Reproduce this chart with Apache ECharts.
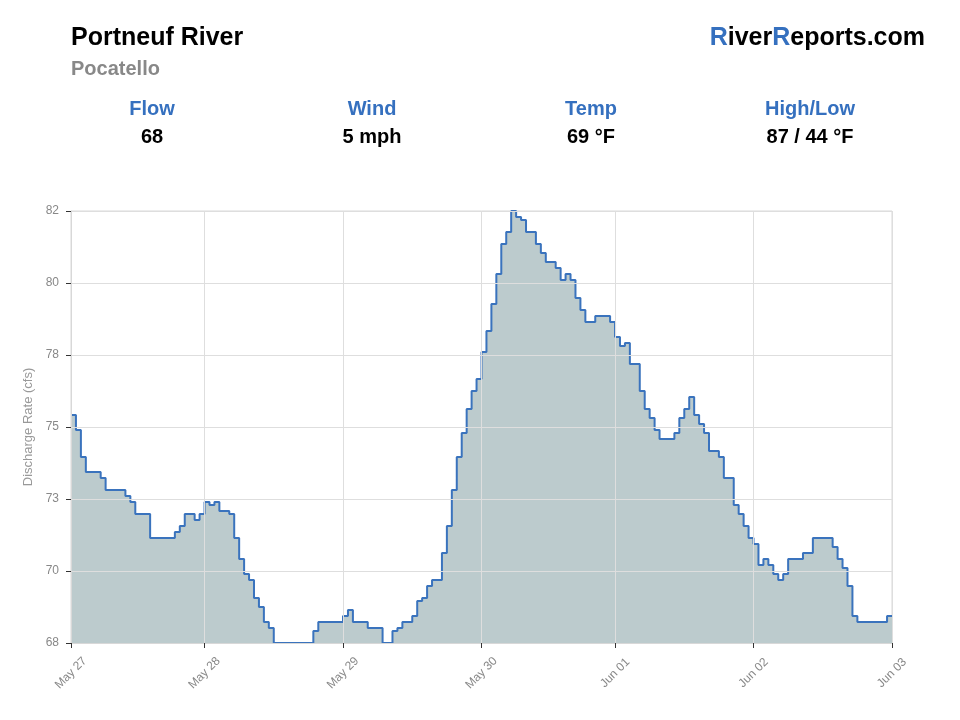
<!DOCTYPE html>
<html lang="en">
<head>
    <meta charset="UTF-8">
    <title>Portneuf River - Pocatello</title>
    <script src="https://cdn.jsdelivr.net/npm/echarts@6/dist/echarts.min.js"></script>
    <style>
        html, body { margin: 0; padding: 0; background: #fff; }
    </style>
</head>
<body>
<div id="myChart" style="width: 960px;height: 720px"></div>
<script>
    // hourly discharge readings (cfs)
    var flow = [
        75.6, 75.1, 74.2, 73.7, 73.7, 73.7, 73.5, 73.1, 73.1, 73.1,
        73.1, 72.9, 72.7, 72.3, 72.3, 72.3, 71.5, 71.5, 71.5, 71.5,
        71.5, 71.7, 71.9, 72.3, 72.3, 72.1, 72.3, 72.7, 72.6, 72.7,
        72.4, 72.4, 72.3, 71.5, 70.8, 70.3, 70.1, 69.5, 69.2, 68.7,
        68.5, 68.0, 68.0, 68.0, 68.0, 68.0, 68.0, 68.0, 68.0, 68.4,
        68.7, 68.7, 68.7, 68.7, 68.7, 68.9, 69.1, 68.7, 68.7, 68.7,
        68.5, 68.5, 68.5, 68.0, 68.0, 68.4, 68.5, 68.7, 68.7, 68.9,
        69.4, 69.5, 69.9, 70.1, 70.1, 71.0, 71.9, 73.1, 74.2, 75.0,
        75.8, 76.4, 76.8, 77.7, 78.4, 79.3, 80.3, 81.3, 81.7, 82.4,
        82.2, 82.1, 81.7, 81.7, 81.3, 81.0, 80.7, 80.7, 80.5, 80.1,
        80.3, 80.1, 79.5, 79.1, 78.7, 78.7, 78.9, 78.9, 78.9, 78.7,
        78.2, 77.9, 78.0, 77.3, 77.3, 76.4, 75.8, 75.5, 75.1, 74.8,
        74.8, 74.8, 75.0, 75.5, 75.8, 76.2, 75.6, 75.3, 75.0, 74.4,
        74.4, 74.2, 73.5, 73.5, 72.6, 72.3, 71.9, 71.5, 71.3, 70.6,
        70.8, 70.6, 70.3, 70.1, 70.3, 70.8, 70.8, 70.8, 71.0, 71.0,
        71.5, 71.5, 71.5, 71.5, 71.2, 70.8, 70.5, 69.9, 68.9, 68.7,
        68.7, 68.7, 68.7, 68.7, 68.7, 68.9, 68.9
    ];
    // date labels and the reading index they sit on
    var tickIndex = [0, 27, 55, 83, 110, 138, 166];
    var tickLabels = ['May 27', 'May 28', 'May 29', 'May 30', 'Jun 01', 'Jun 02', 'Jun 03'];

    var statNames = ['Flow', 'Wind', 'Temp', 'High/Low'];
    var statValues = ['68', '5 mph', '69 °F', '87 / 44 °F'];

    var hours = flow.map(function (v, i) { return String(i); });
    var isTick = function (index) { return tickIndex.indexOf(index) >= 0; };

    var blue = '#3570bf';
    var font = '"Liberation Sans", Arial, Helvetica, sans-serif';

    var graphics = [
        {type: 'text', left: 71, top: 26, style: {text: 'Portneuf River', fill: '#000', font: 'bold 25px ' + font}},
        {type: 'text', left: 71, top: 59, style: {text: 'Pocatello', fill: '#888', font: 'bold 20px ' + font}},
        {type: 'text', right: 35, top: 26, style: {
            text: '{b|R}iver{b|R}eports.com', fill: '#000', font: 'bold 25px ' + font,
            rich: {b: {fill: blue, font: 'bold 25px ' + font}}
        }}
    ];
    var statX = [152, 372, 591, 810];
    statNames.forEach(function (name, i) {
        graphics.push({type: 'text', x: statX[i], y: 109, style: {
            text: name, fill: blue, font: 'bold 20px ' + font, align: 'center', verticalAlign: 'middle'
        }});
        graphics.push({type: 'text', x: statX[i], y: 137, style: {
            text: statValues[i], fill: '#000', font: 'bold 20px ' + font, align: 'center', verticalAlign: 'middle'
        }});
    });

    var myChart = echarts.init(document.getElementById('myChart'));
    myChart.setOption({
        animation: false,
        textStyle: {fontFamily: font},
        graphic: graphics,
        grid: {
            left: 71, right: 68, top: 211, bottom: 77,
            show: true, borderColor: '#d8d8d8', borderWidth: 1
        },
        xAxis: {
            type: 'category',
            data: hours,
            boundaryGap: false,
            z: 3,
            axisLine: {lineStyle: {color: '#d8d8d8'}},
            axisTick: {show: true, interval: isTick, length: 5, lineStyle: {color: '#333'}},
            splitLine: {show: true, interval: isTick, lineStyle: {color: '#dedede'}},
            axisLabel: {
                interval: isTick,
                rotate: 45,
                align: 'center',
                verticalAlign: 'middle',
                margin: 30,
                color: '#888',
                fontSize: 12,
                formatter: function (v) {
                    var k = tickIndex.indexOf(Number(v));
                    return k >= 0 ? tickLabels[k] : '';
                }
            }
        },
        yAxis: {
            type: 'value',
            min: 68,
            max: 82.4,
            interval: 2.4,
            z: 3,
            name: 'Discharge Rate (cfs)',
            nameLocation: 'middle',
            nameGap: 34,
            nameTextStyle: {color: '#999', fontSize: 13},
            axisLine: {show: true, lineStyle: {color: '#d8d8d8'}},
            axisTick: {show: true, length: 5, lineStyle: {color: '#333'}},
            splitLine: {lineStyle: {color: '#dedede'}},
            axisLabel: {
                color: '#888',
                fontSize: 12,
                margin: 12,
                formatter: function (v) { return Math.round(v); }
            }
        },
        series: [{
            name: 'Discharge',
            type: 'line',
            step: 'end',
            data: flow,
            symbol: 'none',
            z: 2,
            lineStyle: {color: '#3a73bd', width: 2},
            areaStyle: {color: '#bccbcd', opacity: 1}
        }]
    });
</script>
</body>
</html>
